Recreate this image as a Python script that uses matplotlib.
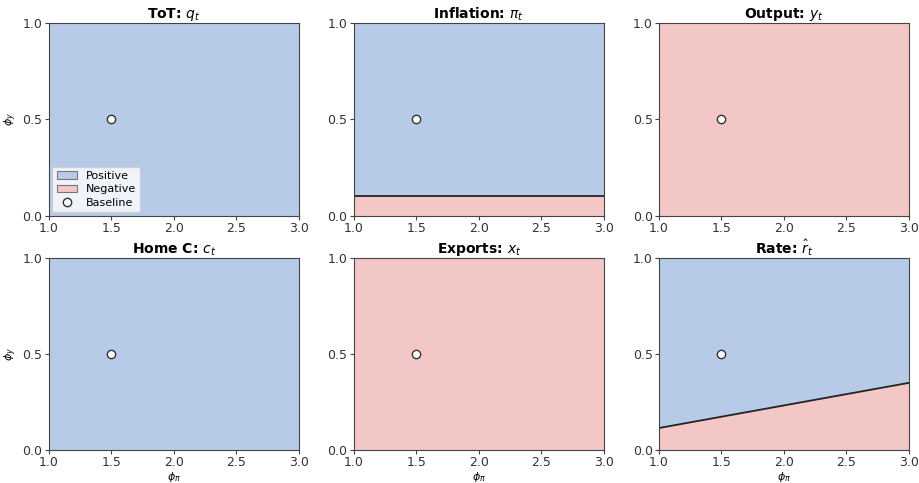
import numpy as np
import matplotlib.pyplot as plt

plt.rcParams['font.size'] = 9
plt.rcParams['axes.edgecolor'] = '#444444'
plt.rcParams['xtick.color'] = '#444444'
plt.rcParams['ytick.color'] = '#444444'
plt.rcParams['xtick.labelcolor'] = '#333333'
plt.rcParams['ytick.labelcolor'] = '#333333'
plt.rcParams['xtick.major.pad'] = 1.5
plt.rcParams['ytick.major.pad'] = 1.5
plt.rcParams['xtick.major.size'] = 3
plt.rcParams['ytick.major.size'] = 3

titles = [r'ToT: $q_t$', r'Inflation: $\pi_t$', r'Output: $y_t$',
          r'Home C: $c_t$', r'Exports: $x_t$', r'Rate: $\hat{r}_t$']
# boundary phi_y at phi_pi = 1 and 3; below boundary = negative, above = positive
phi_pi = [1.0, 3.0]
bound = [[0.0, 0.0], [0.10, 0.10], [1.0, 1.0],
         [0.0, 0.0], [1.0, 1.0], [0.115, 0.35]]
show_line = [False, True, False, False, False, True]
base_pi = 1.5
base_y = 0.5

pos_col = '#b7cbe8'
neg_col = '#f4c7c7'

fig, axes = plt.subplots(2, 3, figsize=(9.2, 4.83), dpi=100)
plt.subplots_adjust(left=0.053, right=0.988, top=0.952, bottom=0.068,
                    wspace=0.22, hspace=0.22)

for i, ax in enumerate(axes.flat):
    b = np.array(bound[i])
    ax.fill_between(phi_pi, b, 1.0, color=pos_col, lw=0, label='Positive')
    ax.fill_between(phi_pi, 0.0, b, color=neg_col, lw=0, label='Negative')
    if show_line[i]:
        ax.plot(phi_pi, b, color='#222222', lw=1.3)
    ax.plot(base_pi, base_y, 'o', mfc='white', mec='#333333', mew=1.0, ms=6,
            label='Baseline', ls='none')
    ax.set_xlim(1, 3)
    ax.set_ylim(0, 1)
    ax.set_xticks([1.0, 1.5, 2.0, 2.5, 3.0])
    ax.set_yticks([0.0, 0.5, 1.0])
    ax.set_title(titles[i], fontweight='bold', fontsize=10, pad=3)
    if i % 3 == 0:
        ax.set_ylabel(r'$\phi_y$', fontsize=8)
        ax.yaxis.set_label_coords(-0.12, 0.5)
    if i >= 3:
        ax.set_xlabel(r'$\phi_\pi$', fontsize=8)
        ax.xaxis.set_label_coords(0.5, -0.105)

h, l = axes[0, 0].get_legend_handles_labels()
leg = axes[0, 0].legend(h, l, loc='lower left', fontsize=8, framealpha=0.8,
                        borderpad=0.4, labelspacing=0.3, handlelength=1.8,
                        borderaxespad=0.3)
for p in leg.get_patches():
    p.set_edgecolor('#777777')
    p.set_linewidth(0.8)

fig.savefig('out.png', dpi=100)
